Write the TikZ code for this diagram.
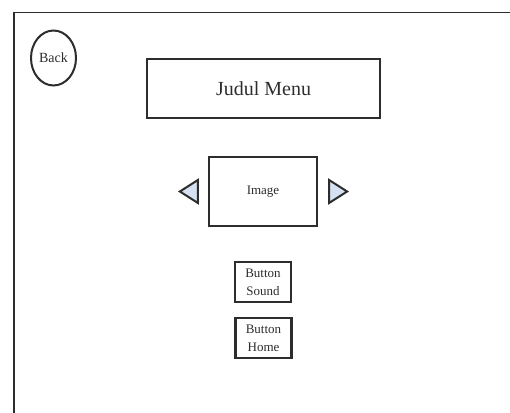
\documentclass[tikz,border=0pt]{standalone}
\usepackage{fontspec}
\setmainfont{Liberation Serif}
\usetikzlibrary{positioning,shapes.geometric}

\definecolor{lineGray}{RGB}{45,45,45}
\definecolor{arrowBlue}{RGB}{214,226,242}

\tikzset{
  frameline/.style={line width=1.8pt, draw=lineGray},
  box/.style={draw=lineGray, line width=2.2pt, text=lineGray, inner sep=0pt},
  btn/.style={box, minimum width=56, minimum height=40, align=center,
    font=\fontsize{13}{18}\selectfont},
  navtri/.style={draw=lineGray, line width=2pt, fill=arrowBlue, line join=miter}
}

\begin{document}
\begin{tikzpicture}[x=1pt,y=-1pt]
\useasboundingbox (0,0) rectangle (510,412);
% screen frame
\draw[frameline] (14,420) -- (14,12.5) -- (520,12.5);

\node[ellipse, draw=lineGray, line width=2pt, text=lineGray, inner sep=0pt,
  minimum width=45, minimum height=55, font=\fontsize{14}{16}\selectfont]
  (back) at (53.5,58) {Back};
\node[box, minimum width=233, minimum height=59, font=\fontsize{20}{22}\selectfont]
  (judul) at (263.5,88.5) {Judul Menu};
\node[box, minimum width=108, minimum height=69, font=\fontsize{13}{15}\selectfont]
  (img) at (263,191.5) {Image};
\node[btn] (sound) at (263,282) {Button\\Sound};
\node[btn] (home) at (263.5,338) {Button\\Home};

% prev / next arrows
\draw[navtri] ([xshift=-10]img.west) ++(0,-11.5) -- ++(-18,11.5) -- ++(18,11.5) -- cycle;
\draw[navtri] ([xshift=11]img.east) ++(0,-11.5) -- ++(18,11.5) -- ++(-18,11.5) -- cycle;
\end{tikzpicture}
\end{document}
